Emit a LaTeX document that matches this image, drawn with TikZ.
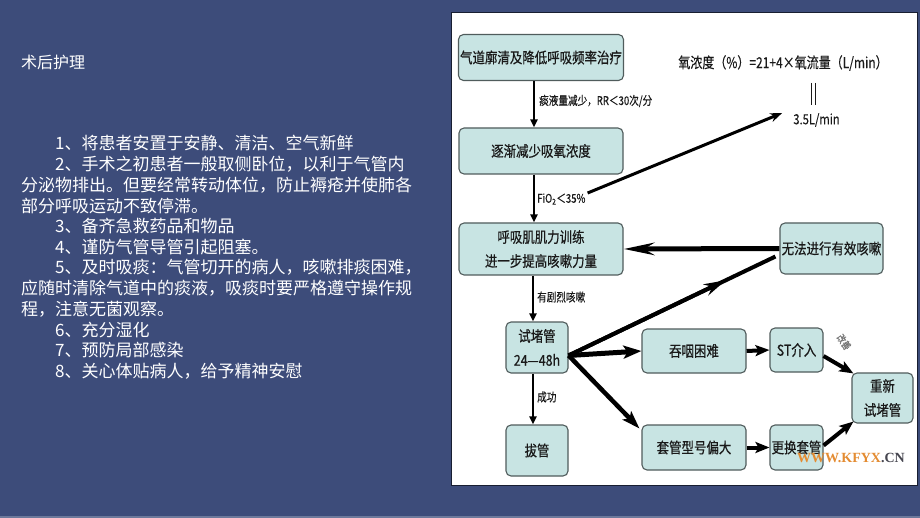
\documentclass[tikz,border=0pt]{standalone}
\usepackage{fontspec}
\setmainfont{Noto Sans CJK SC}
\newfontfamily\cjk{Noto Sans CJK SC}
\newfontfamily\cjkn[FakeStretch=0.83,FakeBold=0.5]{Noto Sans CJK SC}
\newfontfamily\cjks[FakeStretch=0.8,FakeBold=0.3]{Noto Sans CJK SC}
\newfontfamily\wmfont{Liberation Serif}
\usetikzlibrary{arrows.meta,calc}
\definecolor{bg}{RGB}{61,76,122}
\definecolor{boxfill}{RGB}{200,228,227}
\definecolor{boxline}{RGB}{80,92,92}
\definecolor{ink}{RGB}{25,25,25}
\definecolor{wmorange}{RGB}{228,140,50}
\definecolor{wmgray}{RGB}{70,70,80}
\begin{document}
\begin{tikzpicture}[x=1pt,y=-1pt,
  lefttext/.style={anchor=west,inner sep=0pt,text=white,font=\cjk\fontsize{17}{20}\selectfont},
  fbox/.style={draw=boxline,fill=boxfill,rounded corners=5pt,line width=1.1pt,inner sep=0pt,text=ink,font=\cjkn\fontsize{15}{18}\selectfont,align=center},
  twoline/.style={font=\cjkn\fontsize{15}{24}\selectfont},
  elabel/.style={anchor=west,inner sep=0pt,text=ink,font=\cjks\fontsize{12}{14}\selectfont},
  thinarrow/.style={draw=black,line width=2pt,-{Triangle[length=8pt,width=7pt]}},
  thickarrow/.style={draw=black,line width=5pt,-{Stealth[length=18pt,width=13pt,inset=4pt]}},
  midarrow/.style={draw=black,line width=4pt,-{Stealth[length=14pt,width=11pt,inset=3pt]}},
]
\useasboundingbox (0,0) rectangle (920,518);
\fill[bg] (0,0) rectangle (920,518);
\fill[bg!75!white] (0,516) rectangle (920,518);
\filldraw[fill=white,draw=black!60!bg,line width=0.8pt] (451,12) rectangle (917,485);

% left text
\node[lefttext,font=\cjk\fontsize{16}{18}\selectfont] (title) at (21,62) {术后护理};
\node[lefttext] (l1) at (55,143.5) {1、将患者安置于安静、清洁、空气新鲜};
\node[lefttext] (l2) at (55,164.2) {2、手术之初患者一般取侧卧位，以利于气管内};
\node[lefttext] (l3) at (21,184.9) {分泌物排出。但要经常转动体位，防止褥疮并使肺各};
\node[lefttext] (l4) at (21,205.6) {部分呼吸运动不致停滞。};
\node[lefttext] (l5) at (55,226.3) {3、备齐急救药品和物品};
\node[lefttext] (l6) at (55,247.0) {4、谨防气管导管引起阻塞。};
\node[lefttext] (l7) at (55,267.7) {5、及时吸痰：气管切开的病人，咳嗽排痰困难，};
\node[lefttext] (l8) at (21,288.4) {应随时清除气道中的痰液，吸痰时要严格遵守操作规};
\node[lefttext] (l9) at (21,309.1) {程，注意无菌观察。};
\node[lefttext] (l10) at (55,329.8) {6、充分湿化};
\node[lefttext] (l11) at (55,350.5) {7、预防局部感染};
\node[lefttext] (l12) at (55,371.2) {8、关心体贴病人，给予精神安慰};

% flowchart boxes
\node[fbox,minimum width=165pt,minimum height=46pt] (N1) at (541,57.5) {气道廓清及降低呼吸频率治疗};
\node[fbox,minimum width=164pt,minimum height=46pt] (N2) at (541,151) {逐渐减少吸氧浓度};
\node[fbox,twoline,minimum width=164pt,minimum height=52pt] (N3) at (541,249) {呼吸肌肌力训练\\进一步提高咳嗽力量};
\node[fbox,minimum width=103pt,minimum height=51pt] (N4) at (831.5,248.5) {无法进行有效咳嗽};
\node[fbox,twoline,minimum width=62pt,minimum height=51pt] (N5) at (537,347.5) {试堵管\\24—48h};
\node[fbox,minimum width=104pt,minimum height=44pt] (N6) at (694,351) {吞咽困难};
\node[fbox,minimum width=104pt,minimum height=45pt] (N7) at (694,447.5) {套管型号偏大};
\node[fbox,minimum width=53pt,minimum height=44pt] (N8) at (796.5,350) {ST介入};
\node[fbox,minimum width=53pt,minimum height=45pt] (N9) at (796.5,447.5) {更换套管};
\node[fbox,twoline,minimum width=61pt,minimum height=50pt] (N10) at (882.5,398) {重新\\试堵管};
\node[fbox,minimum width=62pt,minimum height=51pt] (N11) at (537,450.5) {拔管};

% formula
\node[inner sep=0pt,text=ink,font=\cjks\fontsize{15}{18}\selectfont] (formula) at (783,63) {氧浓度（\%）=21+4×氧流量（L/min）};
\node[inner sep=0pt,text=ink,font=\cjks\fontsize{14}{16}\selectfont] (flow) at (816.5,120) {3.5L/min};
\draw[ink,line width=0.9pt] (811.5,83) -- (811.5,105) (815,83) -- (815,105);

% edge labels
\node[elabel] (e1) at (539,101) {痰液量减少，RR＜30次/分};
\node[elabel] (fio) at (537,199) {FiO\textsubscript{2}＜35\%};
\node[elabel] (e3) at (537,297) {有剧烈咳嗽};
\node[elabel] (e4) at (537,397) {成功};
\node[text=black!55,inner sep=0pt,rotate=-55,font=\cjks\fontsize{10}{11}\selectfont] (e5) at (844,342) {改善};

% vertical arrows
\draw[thinarrow] ([xshift=-7pt]N1.south) -- ([xshift=-7pt]N2.north);
\draw[thinarrow] ([xshift=-7pt]N2.south) -- ([xshift=-7pt]N3.north);
\draw[thinarrow] ([xshift=-8pt]N3.south) -- ([xshift=-4pt]N5.north);
\draw[thinarrow] ([xshift=-4pt]N5.south) -- ([xshift=-4pt]N11.north);

% FiO2 -> 3.5L/min
\draw[black,line width=3pt,-{Stealth[length=12pt,width=9pt]}] ([xshift=2pt,yshift=6pt]fio.east) -- ([xshift=-11pt,yshift=7pt]flow.west);

% N4 -> N3
\draw[black,line width=5pt,-{Stealth[length=30pt,width=12pt]}] (N4.west) -- (N3.east);

% fan from N5
\coordinate (fan) at ([yshift=-8pt]N5.east);
\coordinate (n4in) at ([xshift=-4pt,yshift=-8pt]N4.west);
\draw[black,line width=4pt] (fan) -- (n4in);
\draw[black,line width=4pt,-{Stealth[length=22pt,width=12pt]}] (fan) -- ($(fan)!0.76!(n4in)$);
\draw[thickarrow] (fan) -- (N6.west);
\draw[black,line width=4.5pt,-{Stealth[length=18pt,width=12pt,inset=4pt]}] (fan) -- ([xshift=-2pt,yshift=-4pt]N7.north west);

% right part
\draw[midarrow] (N6.east) -- (N8.west);
\draw[midarrow] (N7.east) -- (N9.west);
\draw[midarrow] ([yshift=-6pt]N8.east) -- ([xshift=2pt,yshift=-1pt]N10.north west);
\draw[midarrow] ([yshift=2pt]N9.east) -- ([xshift=2pt,yshift=2pt]N10.south west);

% watermark
\node[anchor=west,inner sep=0pt,font=\wmfont\bfseries\fontsize{14}{16}\selectfont] (wm) at (797,458) {\textcolor{wmorange}{WWW.KFYX}\textcolor{wmgray}{.CN}};
\end{tikzpicture}
\end{document}
